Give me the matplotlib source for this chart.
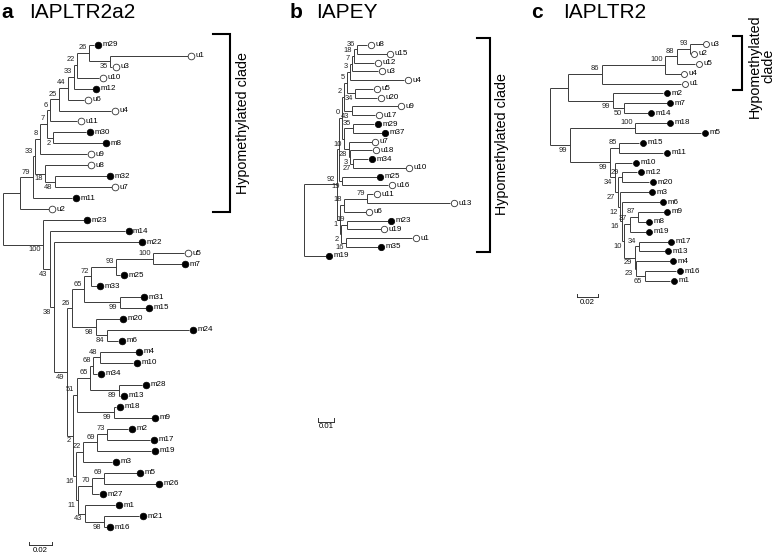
import matplotlib

matplotlib.use("Agg")

import matplotlib.pyplot as plt
from matplotlib.collections import LineCollection
from matplotlib.transforms import offset_copy

FONT = "Liberation Sans"
W, H = 775, 554

# Trees in Newick form: branch lengths in substitutions per site,
# bootstrap support written as internal node labels.
A_HYPO = (
    "(((((((((((m29:0.0045,(u1:0.0695,u3:0.0018)35:0.0188)26:0.0108,"
    "u10:0.0197)22:0.0027,m12:0.0166)33:0.0054,u6:0.0143)44:0.0081,"
    "u4:0.0466)25:0.0081,u11:0.0242)6:0.0027,(m30:0.0296,m8:0.0444)2:0.0054)7:0.0063,"
    "u9:0.0422)8:0.0045,(u8:0.0381,(m32:0.0462,u7:0.0507)48:0.0090)18:0.0090)33:0.0018,"
    "m11:0.0354)79:0.0117,u2:0.0260)"
)
A_MID = (
    "(((((u5:0.0278,m7:0.0256)100:0.0332,m25:0.0036)93:0.0224,m33:0.0049)72:0.0063,"
    "(m31:0.0184,m15:0.0229)99:0.0323)65:0.0108,"
    "(m20:0.0215,(m24:0.0735,m6:0.0099)84:0.0099)98:0.0215)26"
)
A_LOW = (
    "(((((m4:0.0318,m10:0.0296)48:0.0063,m34:0.0036)68:0.0027,"
    "(m28:0.0206,m13:0.0009)89:0.0260)65:0.0117,(m18:0.0018,m9:0.0336)99:0.0332)51:0.0036,"
    "((((m2:0.0188,m17:0.0386)73:0.0090,m19:0.0484)69:0.0126,m3:0.0260)22:0.0063,"
    "(((m5:0.0291,m26:0.0462)69:0.0108,m27:0.0063)70:0.0126,"
    "(m1:0.0269,(m21:0.0314,m16:0.0022)98:0.0170)43:0.0063)11:0.0018)16:0.0027)2"
)
TREE_A = (
    "(" + A_HYPO + ":0.0155,(m23:0.0368,(m14:0.0673,(m22:0.0762,("
    + A_MID + ":0.0045," + A_LOW + ":0.0054)49:0.0117)38:0.0036)43:0.0063)100:0.0361);"
)

B_TOP = (
    "((((((u8:0.0060,u15:0.0177)36:0.0018,u12:0.0120)18:0.0012,u3:0.0156)7:0.0012,"
    "u4:0.0323)3:0.0018,(u5:0.0108,u20:0.0132)34:0.0048)5:0.0018,"
    "(u9:0.0272,u17:0.0138)43:0.0048)2"
)
B_METH = (
    "((m29:0.0126,m37:0.0171)35:0.0054,(u7:0.0135,(u18:0.0132,"
    "(m34:0.0090,u10:0.0314)27:0.0018)3:0.0006)28:0.0030)10"
)
B_HYPO_LOW = (
    "(((u11:0.0036,u13:0.0497)79:0.0138,u6:0.0129)18:0.0024,"
    "((m23:0.0243,u19:0.0201)19:0.0036,(u1:0.0395,m35:0.0189)16:0.0030)2:0.0006)1"
)
B_LOW1 = (
    "(((((m28:0.0614,m17:0.0320)42:0.0078,m16:0.0275)13:0.0012,m30:0.0425)24:0.0036,"
    "m36:0.0305)47:0.0102,(m24:0.0299,m32:0.0425)43:0.0054)4"
)
B_LOW2 = (
    "((m31:0.0102,m22:0.0228)12:0.0036,(m20:0.0216,((u14:0.0473,m27:0.0108)19:0.0108,"
    "(m26:0.0156,(m33:0.0383,u2:0.0341)62:0.0108)6:0.0036)1:0.0018)1:0.0018)4"
)
TREE_B = (
    "((((" + B_TOP + ":0.0012," + B_METH + ":0.0012)0:0.0018,"
    "(m25:0.0207,u16:0.0275)19:0.0018):0.0012," + B_HYPO_LOW + ":0.0018)92:0.0198,"
    "m19:0.0129)40:0.0042,m21:0.0251,(m18:0.0234,(" + B_LOW1 + ":0.0030,"
    + B_LOW2 + ":0.0036)10:0.0030)26:0.0018);"
)

C_TOP = (
    "(((((u3:0.0115,u2:0.0003)93:0.0123,u5:0.0173)88:0.0108,u4:0.0147)100:0.0583,"
    "u1:0.0731)86:0.0311,(m2:0.0464,(m7:0.0392,m14:0.0221)50:0.0104)99:0.0412)"
)
C_LOW = (
    "(m10:0.0161,((m12:0.0141,m20:0.0252)29:0.0034,(m3:0.0267,(m6:0.0350,"
    "(((m9:0.0240,m8:0.0074)87:0.0074,m19:0.0147)37:0.0055,"
    "((m17:0.0267,m13:0.0240)34:0.0037,(m4:0.0313,(m16:0.0290,m1:0.0235)65:0.0083)23:0.0009)29:0.0101"
    ")10:0.0018)16:0.0018)12:0.0018)27:0.0028)34"
)
TREE_C = (
    "(" + C_TOP + ":0.0166,((m18:0.0295,m5:0.0613)100:0.0599,"
    "((m15:0.0182,m11:0.0403)85:0.0086," + C_LOW + ":0.0046)99:0.0369)99:0.0184);"
)

PANEL_LETTERS = ["a", "b", "c"]
PANEL_NAMES = ["IAPLTR2a2", "IAPEY", "IAPLTR2"]
SCALE_LENGTHS = [0.02, 0.01, 0.02]
SCALE_TEXTS = ["0.02", "0.01", "0.02"]


def parse_newick(text):
    pos = 0

    def read_node():
        nonlocal pos
        node = {"children": [], "name": "", "length": 0.0}
        if text[pos] == "(":
            pos += 1
            node["children"].append(read_node())
            while text[pos] == ",":
                pos += 1
                node["children"].append(read_node())
            pos += 1
        start = pos
        while pos < len(text) and text[pos] not in ":,);":
            pos += 1
        node["name"] = text[start:pos]
        if pos < len(text) and text[pos] == ":":
            pos += 1
            start = pos
            while text[pos] not in ",);":
                pos += 1
            node["length"] = float(text[start:pos])
        return node

    return read_node()


def layout(node, depth, leaves):
    node["x"] = depth + node["length"]
    if node["children"]:
        for child in node["children"]:
            layout(child, node["x"], leaves)
        node["y"] = (node["children"][0]["y"] + node["children"][-1]["y"]) / 2
    else:
        node["y"] = len(leaves)
        leaves.append(node)


def draw_tree(fig, newick, root_px, leaf0_px, step_px, ppu, msize,
              bar_len, bar_text, bar_px):
    ax = fig.add_axes([0, 0, 1, 1])
    ax.set_xlim(-root_px / ppu, (W - root_px) / ppu)
    ax.set_ylim((H - leaf0_px) / step_px, -leaf0_px / step_px)
    ax.axis("off")

    tree = parse_newick(newick)
    leaves = []
    layout(tree, 0.0, leaves)

    segments = []
    boot_up = offset_copy(ax.transData, fig=fig, x=-2.5, y=5.3, units="dots")
    boot_down = offset_copy(ax.transData, fig=fig, x=-2.5, y=-5.3, units="dots")

    def walk(node):
        kids = node["children"]
        if not kids:
            return
        segments.append([(node["x"], kids[0]["y"]), (node["x"], kids[-1]["y"])])
        for i, child in enumerate(kids):
            segments.append([(node["x"], child["y"]), (child["x"], child["y"])])
            if child["children"] and child["name"]:
                ax.text(child["x"], child["y"], child["name"],
                        transform=boot_up if i == 0 else boot_down,
                        ha="right", va="center", fontsize=5.4, family=FONT,
                        color="#222222")
            walk(child)

    walk(tree)
    ax.add_collection(LineCollection(segments, colors="#3a3a3a", linewidths=0.7))

    mark_tr = offset_copy(ax.transData, fig=fig, x=3.5, y=0, units="dots")
    label_tr = offset_copy(ax.transData, fig=fig, x=8, y=0, units="dots")
    filled = [lf for lf in leaves if lf["name"].startswith("m")]
    hollow = [lf for lf in leaves if not lf["name"].startswith("m")]
    ax.plot([lf["x"] for lf in filled], [lf["y"] for lf in filled], "o",
            transform=mark_tr, ms=msize, mfc="black", mec="black", mew=0.5)
    ax.plot([lf["x"] for lf in hollow], [lf["y"] for lf in hollow], "o",
            transform=mark_tr, ms=msize, mfc="white", mec="#333333", mew=0.6)
    for lf in leaves:
        ax.text(lf["x"], lf["y"], lf["name"], transform=label_tr,
                ha="left", va="center", fontsize=5.8, family=FONT)

    # scale bar
    x0 = (bar_px[0] - root_px) / ppu
    y0 = (bar_px[1] - leaf0_px) / step_px
    tick = 3.5 / step_px
    ax.plot([x0, x0 + bar_len], [y0, y0], color="#333333", lw=0.7)
    ax.plot([x0, x0], [y0, y0 - tick], color="#333333", lw=0.7)
    ax.plot([x0 + bar_len, x0 + bar_len], [y0, y0 - tick], color="#333333", lw=0.7)
    bar_tr = offset_copy(ax.transData, fig=fig, x=0, y=-1.5, units="dots")
    ax.text(x0 + bar_len / 2, y0, bar_text, transform=bar_tr, ha="center",
            va="top", fontsize=5.6, family=FONT)
    return ax


fig = plt.figure(figsize=(W / 100, H / 100), dpi=100)
fig.patch.set_facecolor("white")

canvas = fig.add_axes([0, 0, 1, 1])
canvas.set_xlim(0, W)
canvas.set_ylim(H, 0)
canvas.axis("off")

# panel titles
for letter, name, lx, nx in zip(PANEL_LETTERS, PANEL_NAMES, [1, 290, 531], [29, 316, 563]):
    canvas.text(lx, 17.5, letter, fontsize=15, fontweight="bold", family=FONT,
                ha="left", va="baseline")
    canvas.text(nx, 17.5, name, fontsize=15, family=FONT, ha="left", va="baseline")

# hypomethylated clade brackets
for x_in, x_out, y_top, y_bot in [(213, 230, 34, 212), (477, 490, 38, 252), (733, 742, 36, 89.5)]:
    canvas.plot([x_in, x_out, x_out, x_in], [y_top, y_top, y_bot, y_bot],
                color="black", lw=1.5, solid_joinstyle="miter")
canvas.text(243, 123.5, "Hypomethylated clade", rotation=90, fontsize=10.3,
            family=FONT, ha="center", va="center")
canvas.text(502, 144, "Hypomethylated clade", rotation=90, fontsize=10.3,
            family=FONT, ha="center", va="center")
canvas.text(762, 66, "Hypomethylated\nclade", rotation=90, fontsize=10.3,
            family=FONT, ha="center", va="center", linespacing=0.95,
            multialignment="center")

draw_tree(fig, TREE_A, 2.7, 44.7, 10.97, 1115, 4.8,
          SCALE_LENGTHS[0], SCALE_TEXTS[0], (29.3, 545))
draw_tree(fig, TREE_B, 297, 45, 8.78, 1670, 4.6,
          SCALE_LENGTHS[1], SCALE_TEXTS[1], (317.7, 421.7))
draw_tree(fig, TREE_C, 550, 44, 9.875, 1085, 4.3,
          SCALE_LENGTHS[2], SCALE_TEXTS[2], (576.7, 297))

fig.savefig("out.png", dpi=100, facecolor="white")
plt.close(fig)
